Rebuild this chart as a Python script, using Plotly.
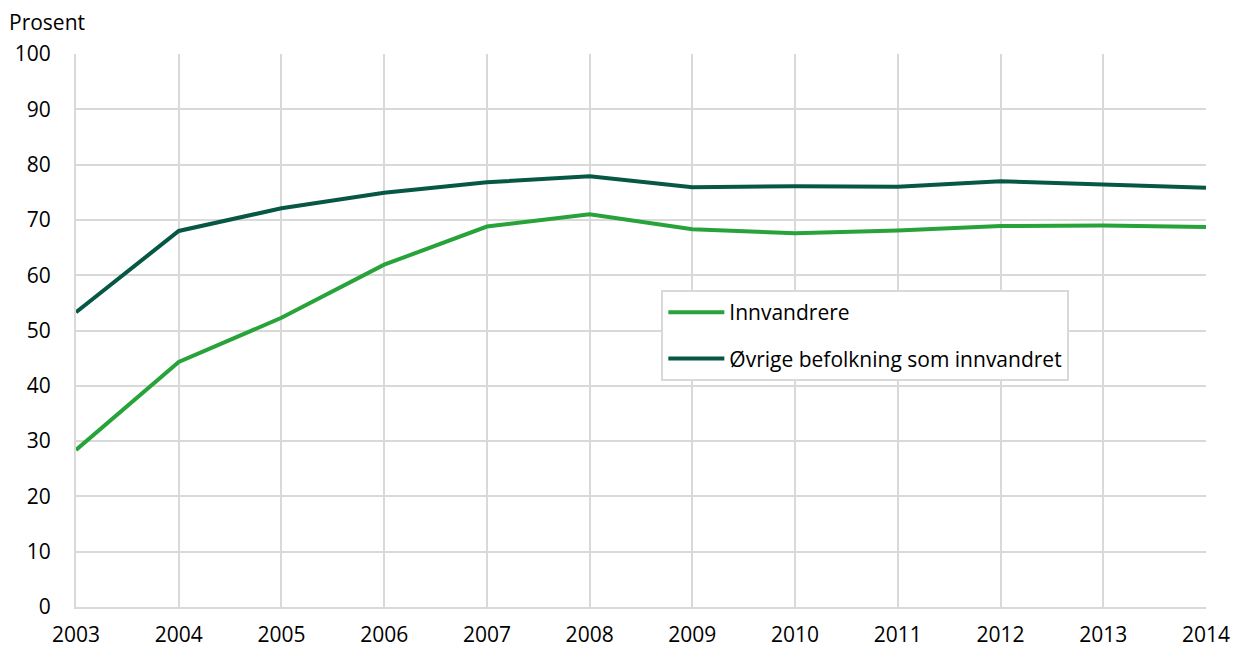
import plotly.graph_objects as go

years = [2003, 2004, 2005, 2006, 2007, 2008, 2009, 2010, 2011, 2012, 2013, 2014]
innvandrere = [28.4, 44.3, 52.3, 61.9, 68.8, 71.0, 68.3, 67.6, 68.1, 68.9, 69.0, 68.7]
ovrige = [53.3, 68.0, 72.1, 74.9, 76.8, 77.9, 75.9, 76.1, 76.0, 77.0, 76.4, 75.8]
series_names = ["Innvandrere", "Øvrige befolkning som innvandret"]
y_ticks = [0, 10, 20, 30, 40, 50, 60, 70, 80, 90, 100]

fig = go.Figure()
fig.add_trace(go.Scatter(x=years, y=innvandrere, mode="lines", name=series_names[0],
                         legendgroup="a", line=dict(color="#27a33a", width=4)))
fig.add_trace(go.Scatter(x=years, y=ovrige, mode="lines", name=series_names[1],
                         legendgroup="b", line=dict(color="#075745", width=4)))

font = "Open Sans, sans-serif"
fig.update_layout(
    width=1235, height=648,
    margin=dict(l=76, r=29, t=54, b=41),
    plot_bgcolor="white", paper_bgcolor="white",
    font=dict(family=font, size=21, color="#000000"),
    showlegend=True,
    legend=dict(x=0.518, y=0.573, xanchor="left", yanchor="top",
                bordercolor="#d9d9d9", borderwidth=2, bgcolor="white",
                font=dict(size=21), traceorder="grouped", tracegroupgap=16,
                itemwidth=56),
    xaxis=dict(range=[2003, 2014], tickvals=years, ticktext=[str(y) for y in years],
               showgrid=True, gridcolor="#d9d9d9", gridwidth=2,
               showline=True, linecolor="#d9d9d9", linewidth=2,
               ticks="outside", ticklen=8, tickcolor="rgba(0,0,0,0)",
               zeroline=False, automargin=False, tickfont=dict(size=21)),
    yaxis=dict(range=[0, 100], tickvals=y_ticks,
               showgrid=True, gridcolor="#d9d9d9", gridwidth=2,
               showline=True, linecolor="#d9d9d9", linewidth=2,
               ticks="outside", ticklen=19, tickcolor="rgba(0,0,0,0)",
               zeroline=False, automargin=False, tickfont=dict(size=21)),
)
fig.add_annotation(text="Prosent", xref="paper", yref="paper", x=-0.061, y=1.0,
                   yshift=32, xanchor="left", yanchor="middle", showarrow=False,
                   font=dict(size=21, family=font))
fig.write_html("out.html", config={"displayModeBar": False},
               post_script="document.body.style.margin='0';document.body.style.overflow='hidden';")
